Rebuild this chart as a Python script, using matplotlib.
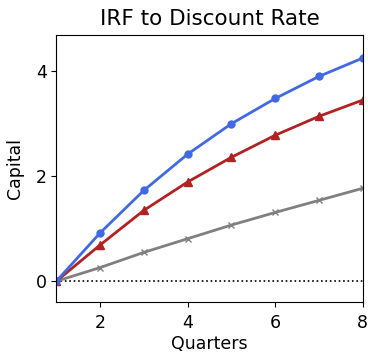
import matplotlib
matplotlib.use("Agg")
import matplotlib.pyplot as plt

quarters = [1, 2, 3, 4, 5, 6, 7, 8]
blue_vals = [0.0, 0.92, 1.73, 2.42, 3.00, 3.48, 3.90, 4.25]
red_vals = [0.0, 0.69, 1.35, 1.89, 2.36, 2.78, 3.14, 3.45]
gray_vals = [0.0, 0.26, 0.55, 0.81, 1.07, 1.31, 1.54, 1.77]

fig = plt.figure(figsize=(3.68, 3.56), dpi=100)
ax = fig.add_axes([0.153, 0.151, 0.833, 0.751])

ax.axhline(0, color="black", linestyle=":", linewidth=1.2)
ax.plot(quarters, gray_vals, color="gray", marker="x", markersize=4, linewidth=2)
ax.plot(quarters, red_vals, color="#b22222", marker="^", markersize=6, linewidth=2)
ax.plot(quarters, blue_vals, color="royalblue", marker="o", markersize=5, linewidth=2)

ax.set_xlim(1, 8)
ax.set_ylim(-0.4, 4.69)
ax.set_xticks([2, 4, 6, 8])
ax.set_yticks([0, 2, 4])
ax.tick_params(labelsize=12.5)
ax.tick_params(axis="x", pad=5)
ax.set_xlabel("Quarters", fontsize=12.5, labelpad=2)
ax.set_ylabel("Capital", fontsize=12.5, labelpad=8)
ax.set_title("IRF to Discount Rate", fontsize=15.5, pad=7)

fig.savefig("out.png", dpi=100)
